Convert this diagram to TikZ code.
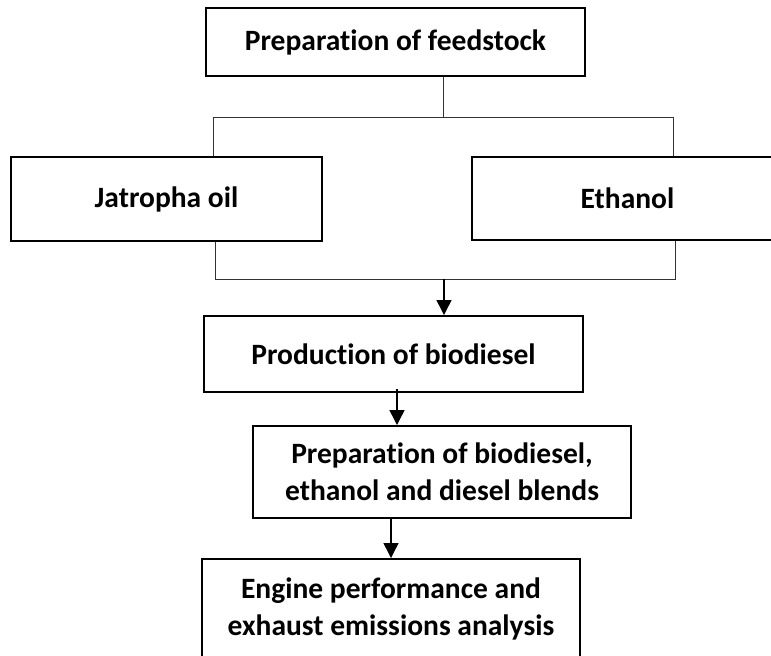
\documentclass[tikz,border=0pt]{standalone}
\usepackage{fontspec}
\setmainfont{Carlito}[Ligatures={NoCommon}]
\usetikzlibrary{arrows.meta,positioning,calc}

\begin{document}
\begin{tikzpicture}[
    box/.style={draw,line width=1.4pt,rounded corners=0pt,align=center,inner sep=0pt,
        font=\fontsize{21}{26.5}\selectfont\bfseries},
    link/.style={line width=0.7pt,draw=black!80},
    ->/.style={line width=1pt,-{Triangle[length=0.37cm,width=0.37cm]}},
]
\useasboundingbox (0,0) rectangle (19.275,-16.4);

% feedstock
\node[box,minimum width=9.475cm,minimum height=1.7cm] (feed) at (9.8875,-1.05) {Preparation of feedstock};

% raw materials
\node[box,minimum width=7.775cm,minimum height=2.1cm] (jat) at (4.1625,-4.975) {Jatropha oil};
\node[box,minimum width=7.775cm,minimum height=2.075cm] (eth) at (15.6875,-4.9625) {Ethanol};

% process steps
\node[box,minimum width=9.475cm,minimum height=1.9cm] (prod) at (9.8375,-8.85) {Production of biodiesel};
\node[box,minimum width=9.45cm,minimum height=2.3cm] (blend) at (11.05,-11.8) {Preparation of biodiesel,\\ethanol and diesel blends};
\node[box,minimum width=9.45cm,minimum height=2.5cm] (eng) at (9.775,-15.225) {Engine performance and\\exhaust emissions analysis};

% Coords
\coordinate (splitM) at (11.075,-2.925);
\coordinate (splitL) at (5.325,-2.925);
\coordinate (splitR) at (16.825,-2.925);
\coordinate (joinM) at (11.1,-6.975);
\coordinate (joinL) at (5.375,-6.975);
\coordinate (joinR) at (16.875,-6.975);

% Lines
\draw[link] (feed.south -| splitM) -- (splitM);
\draw[link] (jat.north -| splitL) -- (splitL) -- (splitR) -- (eth.north -| splitR);
\draw[link] (jat.south -| joinL) -- (joinL) -- (joinR) -- (eth.south -| joinR);

% Arrows
\draw[->] (joinM) -- (prod.north -| joinM);
\draw[->] ($(prod.south)+(0.0875,0.1)$) -- ($(prod.south |- blend.north)+(0.0875,0)$);
\draw[->] (blend.south -| eng.north) -- (eng.north);

\end{tikzpicture}
\end{document}
